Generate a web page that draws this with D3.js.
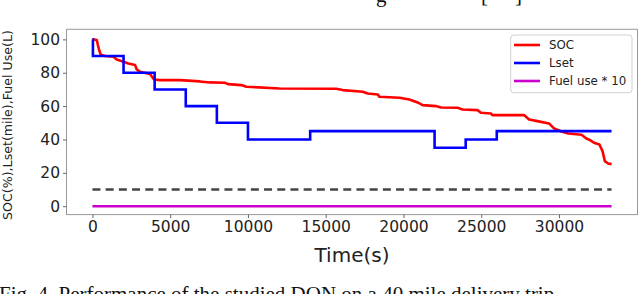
<!DOCTYPE html>
<html>
<head>
<meta charset="utf-8">
<script src="https://cdn.jsdelivr.net/npm/d3@7"></script>
<style>
  html, body { margin: 0; padding: 0; background: #fff; }
  svg { display: block; }
</style>
</head>
<body>
<svg id="chart" width="640" height="294"></svg>
<script>
// ---- data ----
const socTimes = [0, 280, 350, 450, 540, 815, 1350, 1560, 2000, 2310, 2740, 2850, 3060, 3700, 3960, 4340, 5630, 6900, 7550, 8510, 8720, 9580, 9900, 12040, 15680, 16100, 17380, 17700, 18350, 18450, 19740, 20380, 20910, 21230, 22090, 22410, 23480, 23800, 24760, 24980, 25620, 25720, 27750, 28080, 28610, 29360, 29680, 30210, 30600, 31450, 31760, 32000, 32250, 32600, 32800, 32950, 33160, 33380];
const socValues = [100, 99.6, 96.6, 93, 90.8, 90, 89.6, 88, 86.6, 85.6, 84.6, 82, 80.6, 79.2, 76, 75.6, 75.6, 74.8, 74.2, 74, 73.2, 72.6, 71.6, 70.6, 70.4, 69.6, 68.6, 67.6, 67, 65.6, 65, 64, 62.2, 60.6, 60, 59.2, 59, 58, 57.6, 56, 55.6, 54.6, 54.6, 52, 51, 49.6, 46.6, 44.6, 43.6, 42.8, 40.6, 39.6, 38, 37, 33, 27, 25.6, 25.2];
const lsetTimes = [0, 30, 2000, 4000, 6000, 8000, 10000, 14000, 22000, 24000, 26000, 33380];
const lsetValues = [100, 90, 80, 70, 60, 50, 40, 45, 35, 40, 45, 45];
const fuelTimes = [0, 33380];
const fuelValues = [0, 0];
const refTimes = [0, 33380];
const refValues = [10, 10];
const xTicks = [0, 5000, 10000, 15000, 20000, 25000, 30000];
const yTicks = [0, 20, 40, 60, 80, 100];
const legendLabels = ["SOC", "Lset", "Fuel use * 10"];
const legendColors = ["#ff0000", "#0000ff", "#cc00cc"];

// ---- layout ----
const svg = d3.select("#chart");
const L = 66.5, R = 637.5, T = 29.3, B = 214.6;

const x = d3.scaleLinear().domain([-1669, 35049]).range([L, R]);
const y = d3.scaleLinear().domain([-5.05, 106.05]).range([B, T]);

const tickFont = "DejaVu Sans, sans-serif";

// partial text fragments of the page above (cut off in the source image)
svg.append("text").attr("x", 376).attr("y", 1.5).attr("font-family", "Liberation Serif, serif")
  .attr("font-size", 21).attr("fill", "#111").text("g");
svg.append("text").attr("x", 481).attr("y", 1.5).attr("font-family", "Liberation Serif, serif")
  .attr("font-size", 21).attr("fill", "#111").text("[");
svg.append("text").attr("x", 515).attr("y", 1.5).attr("font-family", "Liberation Serif, serif")
  .attr("font-size", 21).attr("fill", "#111").text("]");

// clip
svg.append("clipPath").attr("id", "clip").append("rect")
  .attr("x", L).attr("y", T).attr("width", R - L).attr("height", B - T);

const plot = svg.append("g").attr("clip-path", "url(#clip)");

const mk = (ts, vs) => ts.map((t, i) => [t, vs[i]]);
const line = d3.line().x(d => x(d[0])).y(d => y(d[1]));
const stepLine = d3.line().x(d => x(d[0])).y(d => y(d[1])).curve(d3.curveStepAfter);

plot.append("path").datum(mk(refTimes, refValues)).attr("d", line)
  .attr("fill", "none").attr("stroke", "#444").attr("stroke-width", 2.6)
  .attr("stroke-dasharray", "8,5.2");
plot.append("path").datum(mk(fuelTimes, fuelValues)).attr("d", line)
  .attr("fill", "none").attr("stroke", legendColors[2]).attr("stroke-width", 2.6);
plot.append("path").datum(mk(socTimes, socValues)).attr("d", line)
  .attr("fill", "none").attr("stroke", legendColors[0]).attr("stroke-width", 2.6)
  .attr("stroke-linejoin", "round");
plot.append("path").datum(mk(lsetTimes, lsetValues)).attr("d", stepLine)
  .attr("fill", "none").attr("stroke", legendColors[1]).attr("stroke-width", 2.6)
  .attr("stroke-linejoin", "miter");

// frame
svg.append("rect").attr("x", L).attr("y", T).attr("width", R - L).attr("height", B - T)
  .attr("fill", "none").attr("stroke", "#999").attr("stroke-width", 1);

// axes
const xAxis = svg.append("g").attr("transform", `translate(0,${B})`)
  .call(d3.axisBottom(x).tickValues(xTicks).tickFormat(d3.format("d")).tickSize(3.5).tickPadding(3));
const yAxis = svg.append("g").attr("transform", `translate(${L},0)`)
  .call(d3.axisLeft(y).tickValues(yTicks).tickSize(3.5).tickPadding(3));
[xAxis, yAxis].forEach(a => {
  a.select(".domain").remove();
  a.selectAll(".tick line").attr("stroke", "#666");
  a.selectAll(".tick text").attr("font-family", tickFont).attr("font-size", 15.5).attr("fill", "#222");
});

// axis labels
svg.append("text").attr("x", (L + R) / 2).attr("y", 261.5).attr("text-anchor", "middle")
  .attr("font-family", tickFont).attr("font-size", 20).attr("fill", "#222").text("Time(s)");
svg.append("text").attr("transform", `translate(11.5,125) rotate(-90)`)
  .attr("text-anchor", "middle").attr("font-family", tickFont).attr("font-size", 12.6)
  .attr("fill", "#222").text("SOC(%),Lset(mile),Fuel Use(L)");

// legend
const lg = svg.append("g");
lg.append("rect").attr("x", 510.7).attr("y", 35).attr("width", 121.3).attr("height", 57.7)
  .attr("rx", 3).attr("fill", "#fff").attr("fill-opacity", 0.85)
  .attr("stroke", "#d0d0d0").attr("stroke-width", 1);
legendLabels.forEach((lab, i) => {
  const yy = 45 + i * 18;
  lg.append("line").attr("x1", 514).attr("x2", 540).attr("y1", yy).attr("y2", yy)
    .attr("stroke", legendColors[i]).attr("stroke-width", 2.6);
  lg.append("text").attr("x", 549).attr("y", yy + 4.3).attr("font-family", tickFont)
    .attr("font-size", 11.8).attr("fill", "#222").text(lab);
});

// caption (cut off at bottom in the source image)
svg.append("text").attr("x", -1).attr("y", 300.6).attr("font-family", "Liberation Serif, Times New Roman, serif")
  .attr("font-size", 21).attr("fill", "#111").text("Fig. 4. Performance of the studied DQN on a 40 mile delivery trip.");
</script>
</body>
</html>
